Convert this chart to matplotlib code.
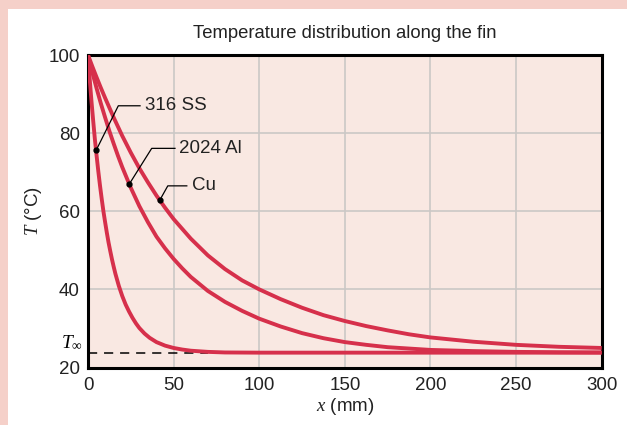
import matplotlib
matplotlib.use("Agg")
import matplotlib.pyplot as plt
import numpy as np
from matplotlib.patches import Rectangle

# Fin temperature profiles, T (°C) vs distance from the base x (mm)
x_cu = [0, 2.5, 5, 7.5, 10, 15, 20, 25, 30, 35, 40, 45, 50, 60, 70, 80, 90, 100, 112.5, 125, 137.5, 150,
        162.5, 175, 187.5, 200, 225, 250, 275, 300]
t_cu = [100, 97.1, 94.3, 91.6, 89.0, 84.0, 79.3, 75.0, 71.0, 67.4, 64.0, 60.9, 58.0, 53.0, 48.7, 45.2, 42.3,
        40.0, 37.5, 35.3, 33.4, 31.9, 30.6, 29.5, 28.5, 27.7, 26.6, 25.8, 25.3, 25.0]

x_al = [0, 2.5, 5, 7.5, 10, 12.5, 15, 17.5, 20, 25, 30, 35, 40, 45, 50, 55, 60, 70, 80, 90, 100, 112.5, 125,
        137.5, 150, 162.5, 175, 200, 225, 250, 275, 300]
t_al = [100, 95.6, 91.5, 87.6, 84.0, 80.5, 77.3, 74.2, 71.3, 66.0, 61.3, 57.2, 53.5, 50.5, 47.8, 45.4, 43.2,
        39.6, 36.8, 34.5, 32.5, 30.5, 28.8, 27.5, 26.5, 25.8, 25.2, 24.5, 24.2, 24.0, 23.9, 23.85]

x_ss = [0, 1, 2, 3, 4, 5, 6, 7, 8, 9, 10, 11, 12, 13, 14, 15, 16, 18, 20, 22, 24, 26, 28, 30, 33, 36, 40, 45,
        50, 55, 60, 70, 80, 100, 300]
t_ss = [100, 93.8, 88.3, 83.3, 78.5, 74.3, 70.3, 66.6, 63.2, 60.0, 57.2, 54.5, 52.0, 49.8, 47.7, 45.8, 44.0,
        40.9, 38.3, 36.1, 34.3, 32.7, 31.3, 30.1, 28.7, 27.6, 26.5, 25.6, 25.0, 24.6, 24.3, 24.0, 23.85, 23.8,
        23.8]

t_inf = 23.8
x_ticks = [0, 50, 100, 150, 200, 250, 300]
y_ticks = [20, 40, 60, 80, 100]

# label text, marker position along the curve, elbow point, end of leader, text x
labels = [
    ("316 SS", x_ss, t_ss, 4.7, (17.7, 87.0), 30.4, 33.3),
    ("2024 Al", x_al, t_al, 24.1, (37.2, 76.1), 50.8, 53.3),
    ("Cu", x_cu, t_cu, 41.9, (46.6, 66.5), 57.7, 60.6),
]

curve_color = "#d6304b"
plt.rcParams["font.family"] = ["Liberation Sans", "DejaVu Sans"]
plt.rcParams["mathtext.fontset"] = "custom"
plt.rcParams["mathtext.it"] = "Liberation Serif:italic"
plt.rcParams["mathtext.rm"] = "Liberation Serif"

fig = plt.figure(figsize=(6.27, 4.25), dpi=100)
fig.patch.set_facecolor("white")
fig.patches.append(Rectangle((0, 1 - 9 / 425), 1, 9 / 425, transform=fig.transFigure,
                             facecolor="#f5d0c9", edgecolor="none", zorder=0))
fig.patches.append(Rectangle((0, 0), 8 / 627, 1, transform=fig.transFigure,
                             facecolor="#f5d0c9", edgecolor="none", zorder=0))

ax = fig.add_axes([88 / 627, 1 - 367.5 / 425, 513.7 / 627, 312.5 / 425])
ax.set_facecolor("#f9e8e2")
ax.set_xlim(0, 300)
ax.set_ylim(20, 100)
ax.set_xticks(x_ticks)
ax.set_yticks(y_ticks)
ax.grid(True, color="#cbc8c6", linewidth=1.2)
ax.set_axisbelow(True)
for s in ax.spines.values():
    s.set_linewidth(2.2)
    s.set_color("black")
ax.tick_params(length=0, labelsize=13.5, colors="#222222")
ax.tick_params(axis="x", pad=7)
ax.tick_params(axis="y", pad=6)

# ambient temperature reference
ax.plot([0, 70], [t_inf, t_inf], color="black", linewidth=1.1, linestyle=(0, (6, 4.5)), zorder=2)
ax.text(-3, t_inf + 0.2, r"$T_\infty$", fontsize=14, ha="right", va="bottom", clip_on=False)

for xs, ts in [(x_cu, t_cu), (x_al, t_al), (x_ss, t_ss)]:
    ax.plot(xs, ts, color=curve_color, linewidth=2.8, solid_capstyle="butt",
            solid_joinstyle="round", zorder=3)

for name, xs, ts, xm, elbow, xend, xtxt in labels:
    ym = float(np.interp(xm, xs, ts))
    ax.plot([xm, elbow[0], xend], [ym, elbow[1], elbow[1]], color="black", linewidth=0.9, zorder=4)
    ax.plot([xm], [ym], "o", color="black", markersize=3.5, zorder=5)
    ax.text(xtxt, elbow[1], name, fontsize=13.5, ha="left", va="center", color="#222222", zorder=5)

ax.set_title("Temperature distribution along the fin", fontsize=13.3, pad=12, color="#222222")
ax.set_xlabel(r"$x$ (mm)", fontsize=13.5, labelpad=1, color="#222222")
ax.set_ylabel(r"$T$ (°C)", fontsize=13.5, labelpad=3, color="#222222")

fig.savefig("out.png", dpi=100)
